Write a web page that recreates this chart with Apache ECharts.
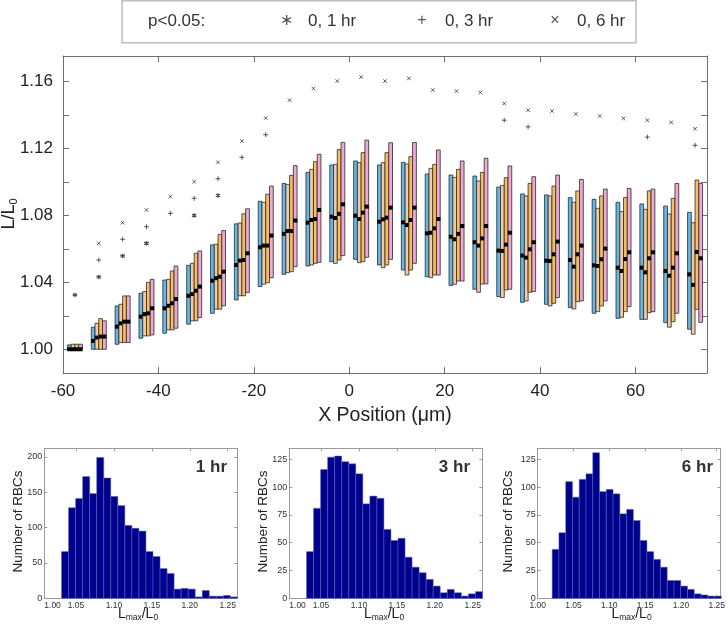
<!DOCTYPE html>
<html>
<head>
<meta charset="utf-8">
<script src="https://cdn.jsdelivr.net/npm/echarts@6/dist/echarts.min.js"></script>
<style>html,body{margin:0;padding:0;background:#fff}#c{width:728px;height:626px}</style>
</head>
<body>
<div id="c"></div>
<script>
// ---------- main chart data ----------
const xPos = [-57.5,-52.5,-47.5,-42.5,-37.5,-32.5,-27.5,-22.5,-17.5,-12.5,-7.5,-2.5,2.5,7.5,12.5,17.5,22.5,27.5,32.5,37.5,42.5,47.5,52.5,57.5,62.5,67.5,72.5];

const t0Low  = [1.000,1.000,1.003,1.0066,1.0096,1.015,1.0215,1.0295,1.0375,1.0448,1.0498,1.0524,1.0538,1.0504,1.0474,1.0434,1.0382,1.0359,1.0315,1.0281,1.0269,1.0249,1.0215,1.0185,1.0179,1.0159,1.012];
const t0High = [1.0026,1.0132,1.0259,1.0335,1.0414,1.0502,1.0624,1.075,1.0885,1.0992,1.1058,1.1102,1.1126,1.1102,1.1118,1.1048,1.1042,1.1036,1.097,1.0929,1.0923,1.0907,1.0897,1.0879,1.0869,1.0857,1.0819];
const t0Med  = [1.000,1.005,1.0135,1.0195,1.0245,1.032,1.041,1.0504,1.061,1.069,1.0757,1.0793,1.0799,1.0763,1.0759,1.0693,1.0673,1.064,1.059,1.056,1.053,1.0534,1.0502,1.0488,1.0488,1.0468,1.0448];

const t1Low  = [1.000,1.000,1.004,1.008,1.0116,1.017,1.024,1.032,1.0389,1.0458,1.0504,1.0514,1.0518,1.0488,1.0444,1.0428,1.0389,1.0341,1.0309,1.0289,1.0259,1.0241,1.0225,1.0191,1.0179,1.0132,1.009];
const t1High = [1.003,1.0155,1.0269,1.0345,1.0418,1.0514,1.0628,1.0755,1.0879,1.0986,1.1076,1.1106,1.1116,1.1116,1.1108,1.1082,1.1028,1.1006,1.098,1.0917,1.0917,1.0879,1.0843,1.0823,1.0837,1.0809,1.0757];
const t1Med  = [1.000,1.007,1.0155,1.021,1.026,1.033,1.0425,1.053,1.062,1.0707,1.0773,1.0785,1.0779,1.0777,1.0743,1.0697,1.0658,1.062,1.0588,1.0548,1.0528,1.0494,1.0498,1.0468,1.046,1.044,1.0385];

const t3Low  = [1.000,1.000,1.004,1.008,1.0116,1.017,1.024,1.032,1.0398,1.0464,1.0514,1.0534,1.0524,1.0504,1.0474,1.0444,1.0408,1.039,1.0355,1.0341,1.0275,1.0285,1.0259,1.0225,1.0219,1.0165,1.0239];
const t3High = [1.003,1.0183,1.0319,1.040,1.0468,1.0574,1.0687,1.081,1.0927,1.104,1.1122,1.1194,1.1176,1.1176,1.1152,1.1106,1.1076,1.1058,1.1026,1.0992,1.0976,1.0947,1.0917,1.0907,1.0947,1.0903,1.1012];
const t3Med  = [1.000,1.0076,1.0165,1.0215,1.0275,1.035,1.0434,1.0534,1.062,1.0707,1.0779,1.081,1.0817,1.0787,1.0773,1.0723,1.069,1.0663,1.0626,1.0598,1.0568,1.0568,1.0538,1.054,1.0544,1.0488,1.0582];

const t6Low  = [1.000,1.000,1.004,1.0086,1.0126,1.019,1.026,1.034,1.0428,1.0494,1.052,1.056,1.055,1.0538,1.0514,1.0444,1.0408,1.0391,1.0359,1.0345,1.0309,1.0289,1.0289,1.0255,1.0225,1.0215,1.0161];
const t6High = [1.003,1.017,1.0319,1.0418,1.0498,1.0588,1.071,1.084,1.0976,1.1098,1.1166,1.1237,1.1251,1.1235,1.1237,1.1192,1.1126,1.1142,1.1096,1.1032,1.1042,1.1016,1.0958,1.0962,1.0958,1.0992,1.0992];
const t6Med  = [1.000,1.0076,1.0165,1.0245,1.030,1.0375,1.0464,1.0574,1.068,1.077,1.0833,1.0867,1.0853,1.0847,1.0847,1.0779,1.0737,1.0737,1.0697,1.064,1.0644,1.062,1.0602,1.058,1.058,1.0574,1.0544];

// p<0.05 significance markers (null = not significant)
const sig1hr = [1.0325,1.0432,1.0558,1.0634,null,1.080,1.092,null,null,null,null,null,null,null,null,null,null,null,null,null,null,null,null,null,null,null,null];
const sig3hr = [null,1.0534,1.0658,1.0733,1.0813,1.0903,1.102,1.1148,1.1283,null,null,null,null,null,null,null,null,null,1.137,1.133,null,null,null,null,1.1269,null,1.122];
const sig6hr = [null,1.0634,1.0757,1.0833,1.0913,1.1002,1.1118,1.1245,1.1383,1.149,1.156,1.1604,1.1628,1.1604,1.162,1.155,1.1544,1.1536,1.147,1.143,1.1425,1.1407,1.1395,1.1381,1.137,1.1357,1.1319];

const yTickValues  = [1.00,1.02,1.04,1.06,1.08,1.10,1.12,1.14,1.16];
const yLabelValues = [1.00,1.04,1.08,1.12,1.16];

// ---------- histogram data ----------
const h1Counts = [66,128,141,172,148,199,170,144,131,103,99,95,66,59,42,35,13,14,13,2,11,3,3,4,2];
const h2Counts = [42,81,116,127,128,123,121,112,85,92,90,62,52,54,37,28,23,17,11,5,8,5,2,4,6];
const h3Counts = [44,59,105,91,107,112,131,96,98,94,76,80,70,52,42,35,28,16,16,11,8,4,3,2,2];
const h1Bins = {start: 1.0309, width: 0.00928};
const h2Bins = {start: 1.0309, width: 0.00928};
const h3Bins = {start: 1.0202, width: 0.00945};
const histXLabels12 = [1.0082,1.05,1.10,1.15,1.20,1.25];
const histXLabels3  = [1.00,1.05,1.10,1.15,1.20,1.25];

// ---------- build ----------
const FONT = 'Liberation Sans, Arial, Helvetica, sans-serif';
const boxColors = ['#62B8E6','#F5C9A6','#F7BF5E','#F0A8D6'];
const boxSets = [[t0Low,t0High,t0Med],[t1Low,t1High,t1Med],[t3Low,t3High,t3Med],[t6Low,t6High,t6Med]];
const BW = 3.75;

function boxSeries(idx) {
  const [lo, hi, md] = boxSets[idx];
  return {
    type: 'custom', xAxisIndex: 0, yAxisIndex: 0, z: 2,
    data: xPos.map((x, i) => [x, lo[i], hi[i], md[i]]),
    encode: {x: 0, y: [1, 2, 3]},
    renderItem: function (params, api) {
      const x = api.value(0);
      const pLo = api.coord([x, api.value(1)]);
      const pHi = api.coord([x, api.value(2)]);
      const pMd = api.coord([x, api.value(3)]);
      const left = pLo[0] - 2 * BW + idx * BW;
      return {type: 'group', children: [
        {type: 'rect', shape: {x: left, y: pHi[1], width: BW, height: Math.max(pLo[1] - pHi[1], 0.5)},
         style: {fill: boxColors[idx], stroke: '#2a2a2a', lineWidth: 0.8}},
        {type: 'rect', shape: {x: left - 0.2, y: pMd[1] - 2, width: BW + 0.4, height: 4},
         style: {fill: '#000'}}
      ]};
    }
  };
}

function sigSeries(vals, symbol, size, lw) {
  return {
    type: 'scatter', xAxisIndex: 0, yAxisIndex: 0, z: 3,
    data: xPos.map((x, i) => vals[i] == null ? null : [x, vals[i]]).filter(d => d),
    symbol: symbol, symbolSize: size,
    itemStyle: {color: 'rgba(0,0,0,0)', borderColor: '#222', borderWidth: lw},
    emphasis: {disabled: true}, silent: true
  };
}

function histSeries(gi, counts, bins) {
  return {
    type: 'custom', xAxisIndex: gi * 2, yAxisIndex: gi * 2,
    data: counts.map((c, k) => [bins.start + k * bins.width, bins.start + (k + 1) * bins.width, c]),
    encode: {x: [0, 1], y: 2},
    renderItem: function (params, api) {
      const p0 = api.coord([api.value(0), 0]);
      const p1 = api.coord([api.value(1), api.value(2)]);
      return {type: 'rect', shape: {x: p0[0], y: p1[1], width: p1[0] - p0[0], height: p0[1] - p1[1]},
              style: {fill: '#00008E', stroke: '#5a64b4', lineWidth: 0.5}};
    }
  };
}

const mainLine = {show: true, onZero: false, lineStyle: {color: '#707070', width: 1}};
const histLine = {show: true, onZero: false, lineStyle: {color: '#9a9a9a', width: 1}};

const grids = [
  {left: 63, top: 56, width: 644, height: 317},
  {left: 44.3, top: 448.3, width: 193, height: 150},
  {left: 289.3, top: 448.3, width: 193, height: 150},
  {left: 537.7, top: 448.3, width: 189.3, height: 150}
];

const xAxes = [
  {gridIndex: 0, type: 'value', min: -60, max: 75, interval: 20, axisLine: mainLine, splitLine: {show: false},
   axisTick: {inside: true, length: 6, lineStyle: {color: '#707070'}},
   axisLabel: {fontFamily: FONT, fontSize: 17, color: '#222', margin: 10, showMaxLabel: false}},
  {gridIndex: 0, type: 'value', position: 'top', min: -60, max: 75, interval: 20, axisLine: mainLine, splitLine: {show: false},
   axisTick: {inside: true, length: 6, lineStyle: {color: '#707070'}}, axisLabel: {show: false}}
];
const yAxes = [
  {gridIndex: 0, type: 'value', position: 'left', min: 0.9858, max: 1.1754, axisLine: mainLine, splitLine: {show: false},
   axisTick: {inside: true, length: 6, customValues: yTickValues, lineStyle: {color: '#707070'}},
   axisLabel: {fontFamily: FONT, fontSize: 17, color: '#222', margin: 10, customValues: yLabelValues,
               formatter: v => v.toFixed(2)}},
  {gridIndex: 0, type: 'value', position: 'right', min: 0.9858, max: 1.1754, axisLine: mainLine, splitLine: {show: false},
   axisTick: {inside: true, length: 6, customValues: yTickValues, lineStyle: {color: '#707070'}}, axisLabel: {show: false}}
];

const histCfg = [
  {gi: 1, min: 1.0082, max: 1.2627, labels: histXLabels12, ymax: 212, yint: 50, alignLeft: true},
  {gi: 2, min: 1.0082, max: 1.2627, labels: histXLabels12, ymax: 135, yint: 25, alignLeft: true},
  {gi: 3, min: 1.00, max: 1.2555, labels: histXLabels3, ymax: 135, yint: 25, alignLeft: false}
];
histCfg.forEach(h => {
  xAxes[h.gi * 2] = {gridIndex: h.gi, type: 'value', position: 'bottom', min: h.min, max: h.max, axisLine: histLine, splitLine: {show: false},
    axisTick: {inside: true, length: 3, customValues: h.labels, lineStyle: {color: '#9a9a9a'}},
    axisLabel: {fontFamily: FONT, fontSize: 8.5, color: '#333', margin: 3, customValues: h.labels,
                alignMinLabel: h.alignLeft ? 'left' : 'center',
                formatter: v => v < 1.01 ? '1.00' : v.toFixed(2)}};
  xAxes[h.gi * 2 + 1] = {gridIndex: h.gi, type: 'value', position: 'top', min: h.min, max: h.max, axisLine: histLine,
    splitLine: {show: false}, axisTick: {inside: true, length: 3, customValues: h.labels, lineStyle: {color: '#9a9a9a'}},
    axisLabel: {show: false}};
  yAxes[h.gi * 2] = {gridIndex: h.gi, type: 'value', position: 'left', min: 0, max: h.ymax, interval: h.yint, axisLine: histLine,
    splitLine: {show: false}, axisTick: {inside: true, length: 3, lineStyle: {color: '#9a9a9a'}},
    axisLabel: {fontFamily: FONT, fontSize: 9, color: '#333', margin: 2, showMaxLabel: false}};
  yAxes[h.gi * 2 + 1] = {gridIndex: h.gi, type: 'value', position: 'right', min: 0, max: h.ymax, interval: h.yint,
    axisLine: histLine, splitLine: {show: false}, axisTick: {inside: true, length: 3, lineStyle: {color: '#9a9a9a'}},
    axisLabel: {show: false}};
});

function txt(x, y, text, size, opts) {
  opts = opts || {};
  return {type: 'text', x: x, y: y, rotation: opts.rotation || 0, silent: true,
    style: Object.assign({text: text, fontFamily: FONT, fontSize: size, fill: opts.fill || '#222',
      fontWeight: opts.bold ? 'bold' : 'normal',
      align: opts.align || 'left', textAlign: opts.align || 'left',
      verticalAlign: 'middle', textVerticalAlign: 'middle'}, opts.rich ? {rich: opts.rich} : {})};
}

const subRich = (big, small) => ({
  a: {fontFamily: FONT, fontSize: big, fill: '#222', lineHeight: big + 2},
  b: {fontFamily: FONT, fontSize: small, fill: '#222', verticalAlign: 'bottom', lineHeight: small}
});

const graphic = [
  {type: 'rect', shape: {x: 122, y: 0.75, width: 514, height: 42}, style: {fill: 'none', stroke: '#bdbdbd', lineWidth: 1.5}, silent: true},
  txt(148, 21, 'p<0.05:', 17, {fill: '#333'}),
  txt(286, 21, '\u2217', 16, {fill: '#555', align: 'center'}),
  txt(308, 21, '0, 1 hr', 17, {fill: '#333'}),
  txt(422, 21, '+', 16, {fill: '#555', align: 'center'}),
  txt(445, 21, '0, 3 hr', 17, {fill: '#333'}),
  txt(555, 21, '\u00d7', 16, {fill: '#555', align: 'center'}),
  txt(577, 21, '0, 6 hr', 17, {fill: '#333'}),
  // main axis titles
  txt(385, 416, 'X Position (\u03bcm)', 19.5, {align: 'center'}),
  txt(9, 214, '{a|L/L}{b|0}', 18, {align: 'center', rotation: Math.PI / 2, rich: subRich(18, 11)}),
  // histogram titles
  txt(18.5, 521.5, 'Number of RBCs', 13.5, {align: 'center', rotation: Math.PI / 2}),
  txt(263, 521.5, 'Number of RBCs', 13.5, {align: 'center', rotation: Math.PI / 2}),
  txt(508, 521.5, 'Number of RBCs', 13.5, {align: 'center', rotation: Math.PI / 2}),
  txt(138, 614, '{a|L}{b|max}{a|/L}{b|0}', 14, {align: 'center', rich: subRich(14, 8.5)}),
  txt(384, 614, '{a|L}{b|max}{a|/L}{b|0}', 14, {align: 'center', rich: subRich(14, 8.5)}),
  txt(631.5, 614, '{a|L}{b|max}{a|/L}{b|0}', 14, {align: 'center', rich: subRich(14, 8.5)}),
  txt(227, 467.5, '1 hr', 17, {align: 'right', bold: true, fill: '#333'}),
  txt(470, 467.5, '3 hr', 17, {align: 'right', bold: true, fill: '#333'}),
  txt(713, 467.5, '6 hr', 17, {align: 'right', bold: true, fill: '#333'})
];

const series = [
  boxSeries(0), boxSeries(1), boxSeries(2), boxSeries(3),
  sigSeries(sig1hr, 'path://M5,0L5,10M0.7,2.5L9.3,7.5M0.7,7.5L9.3,2.5', 4.5, 1.2),
  sigSeries(sig3hr, 'path://M5,0L5,10M0,5L10,5', 5, 0.9),
  sigSeries(sig6hr, 'path://M0,0L10,10M10,0L0,10', 3.6, 0.9),
  histSeries(1, h1Counts, h1Bins),
  histSeries(2, h2Counts, h2Bins),
  histSeries(3, h3Counts, h3Bins)
];

const chart = echarts.init(document.getElementById('c'), null, {renderer: 'canvas'});
chart.setOption({
  animation: false,
  backgroundColor: '#fff',
  grid: grids,
  xAxis: xAxes,
  yAxis: yAxes,
  series: series,
  graphic: graphic
});
</script>
</body>
</html>
